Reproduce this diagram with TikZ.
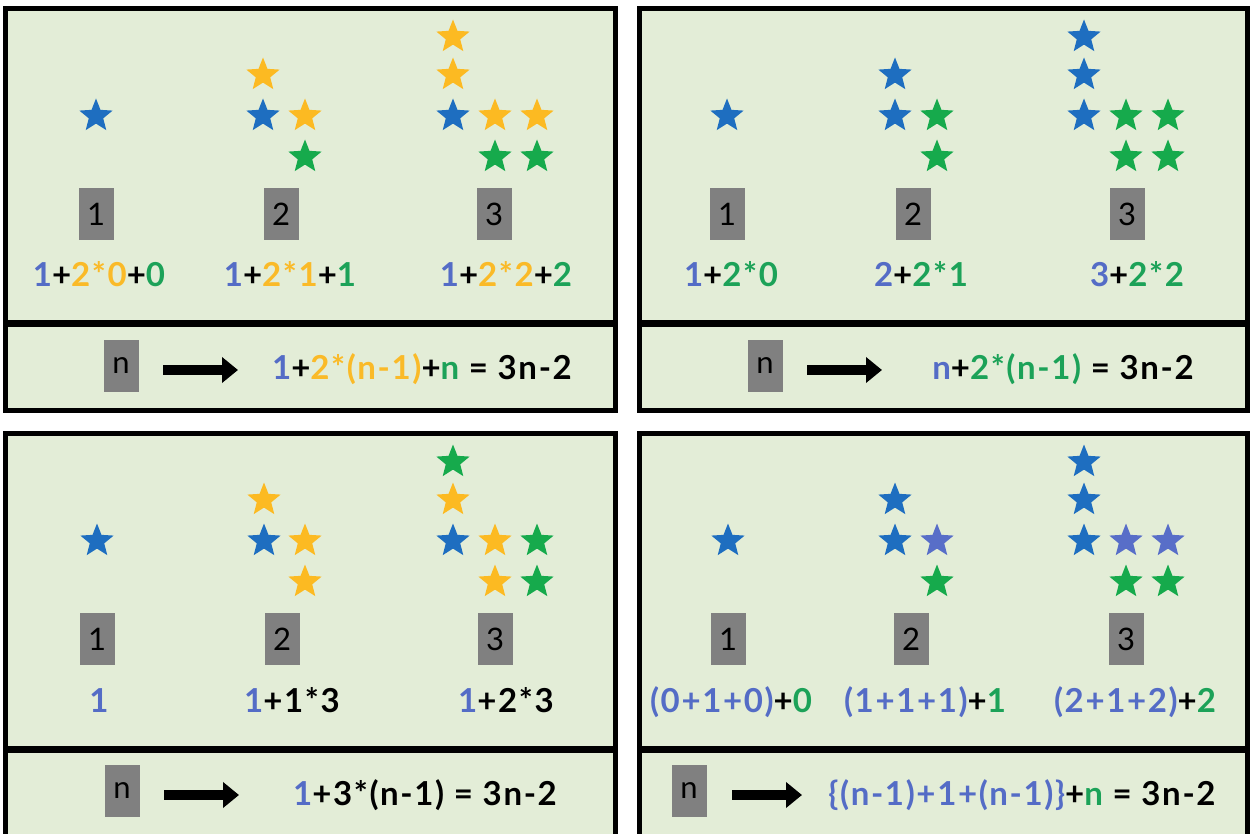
\documentclass[tikz,border=0pt]{standalone}
\usepackage{fontspec}
\setmainfont{Lato}
\usetikzlibrary{shapes.geometric,arrows.meta}
\definecolor{bgpanel}{RGB}{227,237,215}
\definecolor{sblue}{RGB}{30,110,192}
\definecolor{syellow}{RGB}{252,186,34}
\definecolor{sgreen}{RGB}{22,170,76}
\definecolor{sslate}{RGB}{88,110,200}
\definecolor{tblue}{RGB}{84,108,198}
\definecolor{tgreen}{RGB}{28,162,88}
\definecolor{torange}{RGB}{250,186,40}
\definecolor{boxgrey}{RGB}{128,128,128}
\newcommand\clrB[1]{\textcolor{tblue}{#1}}
\newcommand\clrO[1]{\textcolor{torange}{#1}}
\newcommand\clrG[1]{\textcolor{tgreen}{#1}}
\begin{document}
\begin{tikzpicture}[x=1pt,y=-1pt,
  panel/.style={draw=black,line width=5pt,fill=bgpanel},
  divider/.style={draw=black,line width=7pt},
  starnode/.style={shape=star,star points=5,star point ratio=2.3,minimum size=35pt,inner sep=0pt,draw=none},
  sb/.style={starnode,fill=sblue},
  sy/.style={starnode,fill=syellow},
  sg/.style={starnode,fill=sgreen},
  ss/.style={starnode,fill=sslate},
  numbox/.style={fill=boxgrey,minimum width=35pt,minimum height=52pt,inner sep=0pt,font=\fontsize{31}{34}\selectfont,text=black},
  formula/.style={anchor=base,inner sep=0pt,font=\bfseries\fontsize{33}{36}\selectfont\addfontfeatures{LetterSpace=5},text=black},
  bigarrow/.style={line width=10pt,-{Triangle[length=16pt,width=25pt]}}
]
\useasboundingbox (0,0) rectangle (1251,834);
\fill[white] (0,0) rectangle (1251,834);
% ---------- panels ----------
\draw[panel] (5.5,8.5) rectangle (615.5,410);
\draw[divider] (5.5,324) -- (615.5,324);
\draw[panel] (639.5,8.5) rectangle (1247.5,410);
\draw[divider] (639.5,324) -- (1247.5,324);
\draw[panel] (5.5,433.5) rectangle (615.5,836);
\draw[divider] (5.5,749) -- (615.5,749);
\draw[panel] (639.5,433.5) rectangle (1247.5,836);
\draw[divider] (639.5,749) -- (1247.5,749);

% ---------- top-left ----------
\node[sb] (tl1a) at (96,116) {};
\node[sy] (tl2a) at (263,75) {};
\node[sb] (tl2b) at (263,116) {};
\node[sy] (tl2c) at (305,116) {};
\node[sg] (tl2d) at (305,157) {};
\node[sy] (tl3a) at (453,37) {};
\node[sy] (tl3b) at (453,75) {};
\node[sb] (tl3c) at (453,116) {};
\node[sy] (tl3d) at (495,116) {};
\node[sy] (tl3e) at (537,116) {};
\node[sg] (tl3f) at (495,157) {};
\node[sg] (tl3g) at (537,157) {};
\node[numbox] (tlb1) at (96,214) {1};
\node[numbox] (tlb2) at (281,214) {2};
\node[numbox] (tlb3) at (494,214) {3};
\node[formula] (tlf1) at (99,287) {\clrB{1}+\clrO{2*0}+\clrG{0}};
\node[formula] (tlf2) at (290,287) {\clrB{1}+\clrO{2*1}+\clrG{1}};
\node[formula] (tlf3) at (506,287) {\clrB{1}+\clrO{2*2}+\clrG{2}};
\node[numbox] (tln) at (121,366) {n};
\coordinate (tlas) at (163,370);
\coordinate (tlae) at (238,370);
\draw[bigarrow] (tlas) -- (tlae);
\node[formula] (tlfn) at (422,380) {\clrB{1}+\clrO{2*(n-1)}+\clrG{n} = 3n-2};

% ---------- top-right ----------
\node[sb] (tr1a) at (727,116) {};
\node[sb] (tr2a) at (895,75) {};
\node[sb] (tr2b) at (895,116) {};
\node[sg] (tr2c) at (937,116) {};
\node[sg] (tr2d) at (937,157) {};
\node[sb] (tr3a) at (1084,37) {};
\node[sb] (tr3b) at (1084,75) {};
\node[sb] (tr3c) at (1084,116) {};
\node[sg] (tr3d) at (1126,116) {};
\node[sg] (tr3e) at (1168,116) {};
\node[sg] (tr3f) at (1126,157) {};
\node[sg] (tr3g) at (1168,157) {};
\node[numbox] (trb1) at (727,214) {1};
\node[numbox] (trb2) at (913,214) {2};
\node[numbox] (trb3) at (1127,214) {3};
\node[formula] (trf1) at (731,287) {\clrB{1}+\clrG{2*0}};
\node[formula] (trf2) at (921,287) {\clrB{2}+\clrG{2*1}};
\node[formula] (trf3) at (1137,287) {\clrB{3}+\clrG{2*2}};
\node[numbox] (trn) at (765,366) {n};
\coordinate (tras) at (807,370);
\coordinate (trae) at (882,370);
\draw[bigarrow] (tras) -- (trae);
\node[formula] (trfn) at (1063,380) {\clrB{n}+\clrG{2*(n-1)} = 3n-2};

% ---------- bottom-left ----------
\node[sb] (bl1a) at (97,541) {};
\node[sy] (bl2a) at (264,500) {};
\node[sb] (bl2b) at (264,541) {};
\node[sy] (bl2c) at (305,541) {};
\node[sy] (bl2d) at (305,582) {};
\node[sg] (bl3a) at (453,462) {};
\node[sy] (bl3b) at (453,500) {};
\node[sb] (bl3c) at (453,541) {};
\node[sy] (bl3d) at (495,541) {};
\node[sg] (bl3e) at (537,541) {};
\node[sy] (bl3f) at (495,582) {};
\node[sg] (bl3g) at (537,582) {};
\node[numbox] (blb1) at (97,639) {1};
\node[numbox] (blb2) at (282,639) {2};
\node[numbox] (blb3) at (495,639) {3};
\node[formula] (blf1) at (99,712) {\clrB{1}};
\node[formula] (blf2) at (292,712) {\clrB{1}+1*3};
\node[formula] (blf3) at (506,712) {\clrB{1}+2*3};
\node[numbox] (bln) at (122,791) {n};
\coordinate (blas) at (164,795);
\coordinate (blae) at (239,795);
\draw[bigarrow] (blas) -- (blae);
\node[formula] (blfn) at (425,805) {\clrB{1}+3*(n-1) = 3n-2};

% ---------- bottom-right ----------
\node[sb] (br1a) at (728,541) {};
\node[sb] (br2a) at (895,500) {};
\node[sb] (br2b) at (895,541) {};
\node[ss] (br2c) at (937,541) {};
\node[sg] (br2d) at (937,582) {};
\node[sb] (br3a) at (1084,462) {};
\node[sb] (br3b) at (1084,500) {};
\node[sb] (br3c) at (1084,541) {};
\node[ss] (br3d) at (1126,541) {};
\node[ss] (br3e) at (1168,541) {};
\node[sg] (br3f) at (1126,582) {};
\node[sg] (br3g) at (1168,582) {};
\node[numbox] (brb1) at (728,639) {1};
\node[numbox] (brb2) at (911,639) {2};
\node[numbox] (brb3) at (1126,639) {3};
\node[formula] (brf1) at (731,712) {\clrB{(0+1+0)}+\clrG{0}};
\node[formula] (brf2) at (925,712) {\clrB{(1+1+1)}+\clrG{1}};
\node[formula] (brf3) at (1135,712) {\clrB{(2+1+2)}+\clrG{2}};
\node[numbox] (brn) at (689,791) {n};
\coordinate (bras) at (732,795);
\coordinate (brae) at (802,795);
\draw[bigarrow] (bras) -- (brae);
\node[formula] (brfn) at (1022,805) {\clrB{\{(n-1)+1+(n-1)\}}+\clrG{n} = 3n-2};
\end{tikzpicture}
\end{document}
